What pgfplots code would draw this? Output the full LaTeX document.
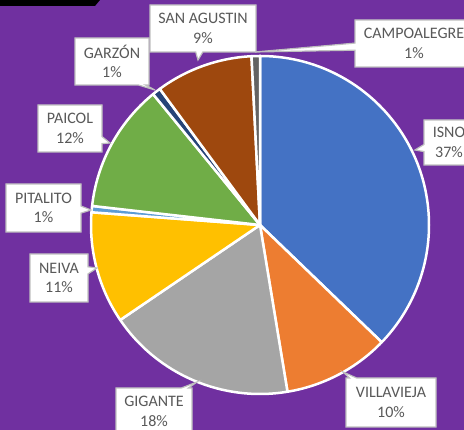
\documentclass[border=0pt]{standalone}
\usepackage{pgfplots}
\pgfplotsset{compat=1.18}
\usepackage{pgfplotstable}
\usepackage{fontspec}
\setmainfont{Carlito}
\usetikzlibrary{shapes.callouts}

\definecolor{bgpurple}{HTML}{7030A0}
\definecolor{c1}{HTML}{4472C4}
\definecolor{c2}{HTML}{ED7D31}
\definecolor{c3}{HTML}{A5A5A5}
\definecolor{c4}{HTML}{FFC000}
\definecolor{c5}{HTML}{5B9BD5}
\definecolor{c6}{HTML}{70AD47}
\definecolor{c7}{HTML}{264478}
\definecolor{c8}{HTML}{9E480E}
\definecolor{c9}{HTML}{636363}
\definecolor{labtext}{HTML}{595959}
\definecolor{labborder}{HTML}{BFBFBF}

\tikzset{lab/.style={rectangle callout, fill=white, draw=labborder, line width=1.2pt,
    text=labtext, align=center, inner sep=0pt,
    font=\fontsize{16}{19.5}\selectfont}}

\pgfplotstableread[col sep=comma]{
name,value,color
ISNO,37.2,c1
VILLAVIEJA,10.2,c2
GIGANTE,18.1,c3
NEIVA,10.7,c4
PITALITO,0.6,c5
PAICOL,12.3,c6
GARZON,0.8,c7
SAN AGUSTIN,9.3,c8
CAMPOALEGRE,0.8,c9
}\piedata

\begin{document}
\begin{tikzpicture}
\useasboundingbox (0,0) rectangle (464pt,430pt);
\clip (0,0) rectangle (464pt,430pt);
\begin{axis}[
  at={(0,0)}, anchor=south west,
  width=464pt, height=430pt, scale only axis,
  xmin=0, xmax=464, ymin=0, ymax=430,
  enlargelimits=false, hide axis, clip=false,
]
\fill[bgpurple] (axis cs:0,0) rectangle (axis cs:464,430);
\fill[black] (axis cs:0,430) -- (axis cs:100,430) -- (axis cs:95,424) -- (axis cs:0,424) -- cycle;

\def\cum{0}
\pgfplotsforeachungrouped \i in {0,...,8}{
  \pgfplotstablegetelem{\i}{value}\of\piedata \let\v\pgfplotsretval
  \pgfplotstablegetelem{\i}{color}\of\piedata \let\c\pgfplotsretval
  \pgfmathsetmacro\sa{90-3.6*\cum}
  \pgfmathsetmacro\ea{90-3.6*(\cum+\v)}
  \pgfmathsetmacro\sx{260+169*cos(\sa)}
  \pgfmathsetmacro\sy{205+169*sin(\sa)}
  \pgfmathsetmacro\cum{\cum+\v}
  \edef\temp{\noexpand\filldraw[fill=\c, draw=white, line width=2.5pt, line join=round]
    (axis cs:260,205) -- (axis cs:\sx,\sy) arc[start angle=\sa, end angle=\ea, radius=169pt] -- cycle;}
  \temp
}

\node[lab, minimum width=106pt, minimum height=47pt, callout absolute pointer={(axis cs:198,370)}] at (axis cs:203,401.5) {SAN AGUSTIN\\9\%};
\node[lab, minimum width=118pt, minimum height=47pt, callout absolute pointer={(axis cs:255,378)}] at (axis cs:414,386.5) {CAMPOALEGRE\\1\%};
\node[lab, minimum width=74pt, minimum height=47pt, callout absolute pointer={(axis cs:155,340)}] at (axis cs:112,368.5) {GARZÓN\\1\%};
\node[lab, minimum width=64pt, minimum height=47pt, callout absolute pointer={(axis cs:110,287)}] at (axis cs:70,301.5) {PAICOL\\12\%};
\node[lab, minimum width=75pt, minimum height=48pt, callout absolute pointer={(axis cs:91,220)}] at (axis cs:43.5,222) {PITALITO\\1\%};
\node[lab, minimum width=58pt, minimum height=48pt, callout absolute pointer={(axis cs:97,162)}] at (axis cs:59,152) {NEIVA\\11\%};
\node[lab, minimum width=50pt, minimum height=45pt, callout absolute pointer={(axis cs:415,280)}] at (axis cs:449,287.5) {ISNO\\37\%};
\node[lab, minimum width=76pt, minimum height=47pt, callout absolute pointer={(axis cs:197,48)}] at (axis cs:154,18.5) {GIGANTE\\18\%};
\node[lab, minimum width=90pt, minimum height=49pt, callout absolute pointer={(axis cs:343,58)}] at (axis cs:391,27.5) {VILLAVIEJA\\10\%};
\end{axis}
\end{tikzpicture}
\end{document}
